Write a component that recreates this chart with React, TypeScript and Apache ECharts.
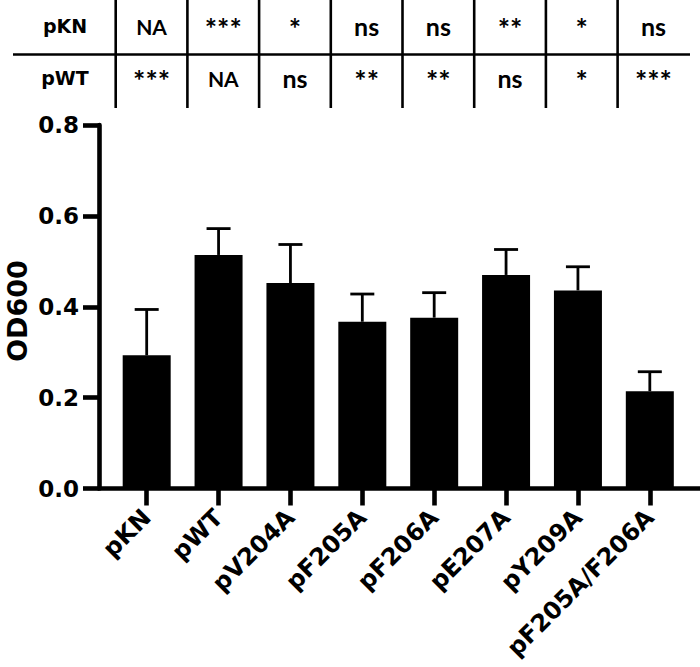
import React, { useEffect, useRef } from "react";
import * as echarts from "echarts";

const categories = ["pKN", "pWT", "pV204A", "pF205A", "pF206A", "pE207A", "pY209A", "pF205A/F206A"];
const means = [0.293, 0.514, 0.452, 0.367, 0.376, 0.470, 0.436, 0.214];
const errors = [0.101, 0.058, 0.085, 0.061, 0.055, 0.056, 0.052, 0.043];
const yTicks = { min: 0, max: 0.8, interval: 0.2 };
const yName = "OD600";

const rowLabels = ["pKN", "pWT"];
const rowPKN = ["NA", "***", "*", "ns", "ns", "**", "*", "ns"];
const rowPWT = ["***", "NA", "ns", "**", "**", "ns", "*", "***"];

const BOLD = "'DejaVu Sans', sans-serif";
const CELL = "Lato, 'Open Sans', sans-serif";

function buildTable(): any[] {
  const els: any[] = [];
  const colStart = 115.7;
  const colW = 71.7;
  const lw = 2.6;
  els.push({
    type: "line",
    shape: { x1: 13, y1: 54.5, x2: 690, y2: 54.5 },
    style: { stroke: "#000", lineWidth: lw },
  });
  for (let k = 0; k < categories.length; k++) {
    const x = colStart + k * colW;
    els.push({
      type: "line",
      shape: { x1: x, y1: 0, x2: x, y2: 108 },
      style: { stroke: "#000", lineWidth: lw },
    });
  }
  const rowsY = [26, 78];
  rowLabels.forEach((lab, r) => {
    els.push({
      type: "text",
      x: 65,
      y: rowsY[r],
      style: {
        text: lab,
        font: `bold 19px ${BOLD}`,
        fill: "#000",
        align: "center",
        verticalAlign: "middle",
      },
    });
  });
  [rowPKN, rowPWT].forEach((row, r) => {
    row.forEach((txt, k) => {
      const isStars = txt.indexOf("*") >= 0;
      const size = txt === "NA" ? 21 : isStars ? 29 : 25;
      els.push({
        type: "text",
        x: colStart + colW / 2 + k * colW,
        y: rowsY[r] + (isStars ? 1 : 0),
        style: {
          text: txt,
          font: `bold ${size}px ${CELL}`,
          fill: "#000",
          align: "center",
          verticalAlign: "middle",
        },
      });
    });
  });
  // y-axis title
  els.push({
    type: "text",
    x: 17,
    y: 311,
    rotation: Math.PI / 2,
    style: {
      text: yName,
      font: `bold 27px ${BOLD}`,
      lineHeight: 27,
      fill: "#000",
      align: "center",
      verticalAlign: "middle",
    },
  });
  return els;
}

export default function App() {
  const ref = useRef<HTMLDivElement>(null);
  useEffect(() => {
    if (!ref.current) return;
    const chart = echarts.init(ref.current, null, { renderer: "svg" });
    const option: any = {
      animation: false,
      backgroundColor: "#fff",
      grid: [
        { left: 110.75, right: 14.25, top: 125, bottom: 178.5, containLabel: false },
        { left: 99, right: 0, top: 125, bottom: 178.5, containLabel: false },
      ],
      xAxis: [
        {
          type: "category",
          gridIndex: 0,
          data: categories,
          axisLine: { show: false },
          axisTick: {
            show: true,
            alignWithLabel: true,
            length: 17,
            lineStyle: { color: "#000", width: 4.6 },
          },
          axisLabel: {
            interval: 0,
            rotate: 45,
            margin: 25,
            color: "#000",
            fontFamily: BOLD,
            fontWeight: "bold",
            fontSize: 24,
          },
        },
        {
          type: "value",
          gridIndex: 1,
          min: 0,
          max: 1,
          axisLine: { show: true, onZero: false, lineStyle: { color: "#000", width: 4.6 } },
          axisTick: { show: false },
          axisLabel: { show: false },
          splitLine: { show: false },
        },
      ],
      yAxis: [
        {
          type: "value",
          gridIndex: 0,
          min: yTicks.min,
          max: yTicks.max,
          interval: yTicks.interval,
          show: false,
          splitLine: { show: false },
        },
        {
          type: "value",
          gridIndex: 1,
          min: yTicks.min,
          max: yTicks.max,
          interval: yTicks.interval,
          splitLine: { show: false },
          axisLine: { show: true, lineStyle: { color: "#000", width: 4.6 } },
          axisTick: { show: true, length: 16, lineStyle: { color: "#000", width: 4.6 } },
          axisLabel: {
            color: "#000",
            fontFamily: BOLD,
            fontWeight: "bold",
            fontSize: 23,
            margin: 20,
            formatter: (v: number) => v.toFixed(1),
          },
        },
      ],
      graphic: buildTable(),
      series: [
        {
          type: "bar",
          xAxisIndex: 0,
          yAxisIndex: 0,
          data: means,
          barWidth: 48,
          itemStyle: { color: "#000" },
          z: 2,
        },
        {
          type: "custom",
          xAxisIndex: 0,
          yAxisIndex: 0,
          z: 3,
          data: means.map((m, i) => [i, m, errors[i]]),
          renderItem: (params: any, api: any) => {
            const i = api.value(0);
            const m = api.value(1);
            const e = api.value(2);
            const base = api.coord([i, m]);
            const top = api.coord([i, m + e]);
            const st = { stroke: "#000", lineWidth: 2.8 };
            return {
              type: "group",
              children: [
                { type: "line", shape: { x1: base[0], y1: base[1], x2: top[0], y2: top[1] }, style: st },
                { type: "line", shape: { x1: top[0] - 12, y1: top[1], x2: top[0] + 12, y2: top[1] }, style: st },
              ],
            };
          },
        },
      ],
    };
    chart.setOption(option);
    return () => chart.dispose();
  }, []);
  return (
    <div
      ref={ref}
      style={{ position: "fixed", left: 0, top: 0, width: 700, height: 667, background: "#fff" }}
    />
  );
}
